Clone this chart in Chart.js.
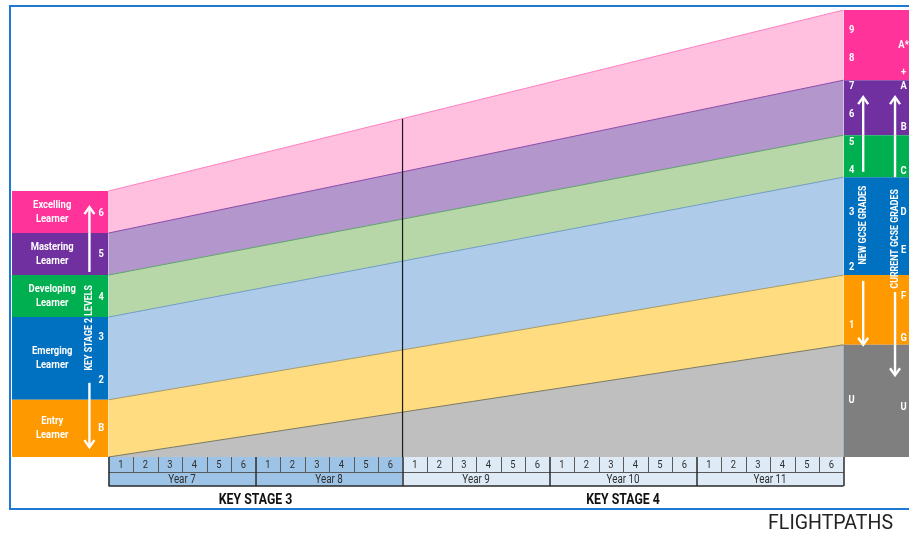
<!DOCTYPE html>
<html>
<head>
<meta charset="utf-8">
<script src="https://cdn.jsdelivr.net/npm/chart.js@4.4.1/dist/chart.umd.min.js"></script>
<style>
    html, body { margin: 0; padding: 0; background: #ffffff; }
    #wrap { position: relative; width: 909px; height: 538px; }
</style>
</head>
<body>
<div id="wrap"><canvas id="flightChart" width="909" height="538"></canvas></div>
<script>
// attainment scale 0-100, band boundaries bottom to top
var bandNames = ['U', 'Entry', 'Emerging', 'Developing', 'Mastering', 'Excelling'];
var ks2Bounds = [0, 0, 12.8, 31.3, 40.7, 50.1, 59.5];      // start of Year 7
var gcseBounds = [0, 25.1, 40.7, 62.6, 72.0, 84.3, 100];   // end of Year 11
var ks4StartTop = 75.6;                                     // top of band at start of Year 9

var learnerLabels = ['', 'Entry\nLearner', 'Emerging\nLearner', 'Developing\nLearner', 'Mastering\nLearner', 'Excelling\nLearner'];
var ks2Levels = ['B', '2', '3', '4', '5', '6'];
var ks2LevelValues = [6.5, 17.2, 26.8, 35.8, 45.4, 54.6];
var newGrades = ['U', '1', '2', '3', '4', '5', '6', '7', '8', '9'];
var newGradeValues = [12.8, 29.5, 42.5, 54.8, 64.2, 70.5, 76.7, 83.0, 89.3, 95.5];
var oldGrades = ['U', 'G', 'F', 'E', 'D', 'C', 'B', 'A', '+', 'A*'];
var oldGradeValues = [11.2, 26.6, 36.0, 46.3, 54.8, 64.0, 73.8, 83.0, 86.1, 92.2];

// timeline in half terms
var halfTerms = ['1', '2', '3', '4', '5', '6'];
var years = ['Year 7', 'Year 8', 'Year 9', 'Year 10', 'Year 11'];
var keyStages = ['KEY STAGE 3', 'KEY STAGE 4'];
var keyStageYears = [2, 3];

// colours
var bandFill = ['#bfbfbf', '#ffdc80', '#aecbea', '#b8d7a8', '#b396cc', '#ffbfdf'];
var bandLine = ['#7a7a62', '#a09a70', '#6f9cc0', '#5f9f70', '#8a4aa8', '#ff80c0'];
var blockColors = ['#7f7f7f', '#ff9900', '#0070c0', '#00b050', '#7030a0', '#ff3399'];
var ksCellColors = ['#9dc3e6', '#deebf7'];

var FONT = "Roboto, 'Liberation Sans', sans-serif";

var startX = 0, endX = years.length * halfTerms.length;

var datasets = [];

// flight path bands, each boundary filled to the one below
for (var i = 0; i < ks2Bounds.length; i++) {
    datasets.push({
        label: i === 0 ? 'base' : bandNames[i - 1],
        data: [{ x: startX, y: ks2Bounds[i] }, { x: endX, y: gcseBounds[i] }],
        borderColor: i === 0 ? 'rgba(0,0,0,0)' : bandLine[i - 1],
        borderWidth: 1,
        backgroundColor: i === 0 ? 'rgba(0,0,0,0)' : bandFill[i - 1],
        fill: i === 0 ? false : '-1',
        pointRadius: 0,
        tension: 0
    });
}

// key stage 2 blocks (left) and GCSE blocks (right)
for (var j = 0; j < bandNames.length; j++) {
    if (ks2Bounds[j + 1] > ks2Bounds[j]) {
        datasets.push({
            label: 'ks2 ' + bandNames[j],
            data: [{ x: -4, y: ks2Bounds[j + 1] }, { x: startX, y: ks2Bounds[j + 1] }],
            borderWidth: 0,
            borderColor: blockColors[j],
            backgroundColor: blockColors[j],
            fill: { value: ks2Bounds[j] },
            pointRadius: 0
        });
    }
    datasets.push({
        label: 'gcse ' + bandNames[j],
        data: [{ x: endX, y: gcseBounds[j + 1] }, { x: endX + 4, y: gcseBounds[j + 1] }],
        borderWidth: 0,
        borderColor: blockColors[j],
        backgroundColor: blockColors[j],
        fill: { value: gcseBounds[j] },
        pointRadius: 0
    });
}

// key stage 3 / 4 divider, drawn on top
datasets.push({
    label: 'divider',
    data: [{ x: 12, y: 0 }, { x: 12, y: ks4StartTop }],
    borderColor: '#1a1a1a',
    borderWidth: 1.2,
    fill: false,
    pointRadius: 0,
    order: -1
});

function arrow(ctx, x, y0, y1) {
    var dir = y1 < y0 ? 1 : -1;
    ctx.beginPath();
    ctx.moveTo(x, y0);
    ctx.lineTo(x, y1 + dir * 1);
    ctx.stroke();
    ctx.beginPath();
    ctx.moveTo(x - 5, y1 + dir * 7);
    ctx.lineTo(x, y1);
    ctx.lineTo(x + 5, y1 + dir * 7);
    ctx.stroke();
}

// narrow text (the original uses a condensed face)
function nText(ctx, txt, x, y, sx, rot) {
    ctx.save();
    ctx.translate(x, y);
    if (rot) ctx.rotate(-Math.PI / 2);
    ctx.scale(sx, 1);
    ctx.fillText(txt, 0, 0);
    ctx.restore();
}

var decorPlugin = {
    id: 'decor',
    afterDraw: function(chart) {
        var ctx = chart.ctx;
        var xs = chart.scales.x;
        var ys = chart.scales.y;
        var area = chart.chartArea;
        ctx.save();

        // frame
        ctx.strokeStyle = '#1f78d1';
        ctx.lineWidth = 2;
        ctx.beginPath();
        ctx.moveTo(909, 6);
        ctx.lineTo(10, 6);
        ctx.lineTo(10, 509);
        ctx.lineTo(909, 509);
        ctx.stroke();

        // left labels
        ctx.fillStyle = '#ffffff';
        ctx.textAlign = 'center';
        ctx.textBaseline = 'middle';
        ctx.font = 'bold 11.5px ' + FONT;
        for (var i = 1; i < learnerLabels.length; i++) {
            var cy = ys.getPixelForValue((ks2Bounds[i] + ks2Bounds[i + 1]) / 2);
            var lines = learnerLabels[i].split('\n');
            nText(ctx, lines[0], xs.getPixelForValue(-2.3), cy - 7, 0.82);
            nText(ctx, lines[1], xs.getPixelForValue(-2.3), cy + 7, 0.82);
        }
        ctx.font = 'bold 11px ' + FONT;
        ks2Levels.forEach(function(l, k) {
            nText(ctx, l, xs.getPixelForValue(-0.3), ys.getPixelForValue(ks2LevelValues[k]), 0.85);
        });
        nText(ctx, 'KEY STAGE 2 LEVELS', xs.getPixelForValue(-0.78), ys.getPixelForValue(28.9), 0.8, true);

        // right labels
        newGrades.forEach(function(g, k) {
            nText(ctx, g, xs.getPixelForValue(30.33), ys.getPixelForValue(newGradeValues[k]), 0.85);
        });
        oldGrades.forEach(function(g, k) {
            nText(ctx, g, xs.getPixelForValue(32.45), ys.getPixelForValue(oldGradeValues[k]), 0.85);
        });
        nText(ctx, 'NEW GCSE GRADES', xs.getPixelForValue(30.8), ys.getPixelForValue(51.9), 0.8, true);
        nText(ctx, 'CURRENT GCSE GRADES', xs.getPixelForValue(32.1), ys.getPixelForValue(48.8), 0.8, true);

        // arrows
        ctx.strokeStyle = '#ffffff';
        ctx.lineWidth = 2.4;
        arrow(ctx, xs.getPixelForValue(-0.78), ys.getPixelForValue(41.4), ys.getPixelForValue(55.9));
        arrow(ctx, xs.getPixelForValue(-0.78), ys.getPixelForValue(16.6), ys.getPixelForValue(2.2));
        arrow(ctx, xs.getPixelForValue(30.8), ys.getPixelForValue(63.8), ys.getPixelForValue(80.5));
        arrow(ctx, xs.getPixelForValue(30.8), ys.getPixelForValue(39.4), ys.getPixelForValue(25.1));
        arrow(ctx, xs.getPixelForValue(32.1), ys.getPixelForValue(62.6), ys.getPixelForValue(80.5));
        arrow(ctx, xs.getPixelForValue(32.1), ys.getPixelForValue(36.9), ys.getPixelForValue(18.3));

        // right block edge
        ctx.strokeStyle = '#6a7a8a';
        ctx.lineWidth = 1;
        ctx.beginPath();
        ctx.moveTo(xs.getPixelForValue(endX) + 0.5, ys.getPixelForValue(gcseBounds[1]));
        ctx.lineTo(xs.getPixelForValue(endX) + 0.5, area.bottom);
        ctx.stroke();

        // timeline
        var top = area.bottom, mid = top + 15, bot = mid + 14;
        var n = halfTerms.length;
        var yearIdx = 0;
        keyStageYears.forEach(function(count, s) {
            for (var yy = 0; yy < count; yy++) {
                var y0 = yearIdx * n;
                var xa = xs.getPixelForValue(y0), xb = xs.getPixelForValue(y0 + n);
                ctx.fillStyle = ksCellColors[s];
                ctx.fillRect(xa, top, xb - xa, bot - top);
                ctx.strokeStyle = '#5a5a5a';
                ctx.lineWidth = 1;
                for (var h = 0; h < n; h++) {
                    var hx = xs.getPixelForValue(y0 + h);
                    var hx2 = xs.getPixelForValue(y0 + h + 1);
                    if (h > 0) {
                        ctx.beginPath();
                        ctx.moveTo(Math.round(hx) + 0.5, top);
                        ctx.lineTo(Math.round(hx) + 0.5, mid);
                        ctx.stroke();
                    }
                    ctx.fillStyle = '#2e2e2e';
                    ctx.font = '11px ' + FONT;
                    nText(ctx, halfTerms[h], (hx + hx2) / 2, top + 8, 0.85);
                }
                ctx.font = '12px ' + FONT;
                nText(ctx, years[yearIdx], (xa + xb) / 2, mid + 7.5, 0.82);
                yearIdx++;
            }
        });
        ctx.strokeStyle = '#5a5a5a';
        ctx.lineWidth = 1;
        ctx.beginPath();
        ctx.moveTo(xs.getPixelForValue(startX), mid + 0.5);
        ctx.lineTo(xs.getPixelForValue(endX), mid + 0.5);
        ctx.stroke();
        ctx.strokeStyle = '#2a2a2a';
        ctx.lineWidth = 1.5;
        for (var k = 0; k <= years.length; k++) {
            var vx = Math.round(xs.getPixelForValue(k * n));
            ctx.beginPath();
            ctx.moveTo(vx, top);
            ctx.lineTo(vx, bot);
            ctx.stroke();
        }
        ctx.beginPath();
        ctx.moveTo(xs.getPixelForValue(startX), bot);
        ctx.lineTo(xs.getPixelForValue(endX), bot);
        ctx.stroke();

        // key stage titles
        ctx.fillStyle = '#111111';
        ctx.font = 'bold 15px ' + FONT;
        var from = 0;
        keyStages.forEach(function(name, s) {
            var to = from + keyStageYears[s] * n;
            nText(ctx, name, xs.getPixelForValue((from + to) / 2), 500, 0.82);
            from = to;
        });

        ctx.font = '21px ' + FONT;
        ctx.textAlign = 'right';
        ctx.fillStyle = '#222222';
        nText(ctx, 'FLIGHTPATHS', 893, 524, 0.93);
        ctx.restore();
    }
};

var ctx = document.getElementById('flightChart').getContext('2d');
new Chart(ctx, {
    type: 'line',
    data: { datasets: datasets },
    options: {
        responsive: false,
        animation: false,
        layout: { padding: { left: 12, right: 0, top: 10, bottom: 81 } },
        scales: {
            x: { type: 'linear', min: -3.94, max: 32.67, display: false },
            y: { type: 'linear', min: 0, max: 100, display: false }
        },
        plugins: {
            legend: { display: false },
            tooltip: { enabled: false }
        }
    },
    plugins: [decorPlugin]
});
</script>
</body>
</html>
